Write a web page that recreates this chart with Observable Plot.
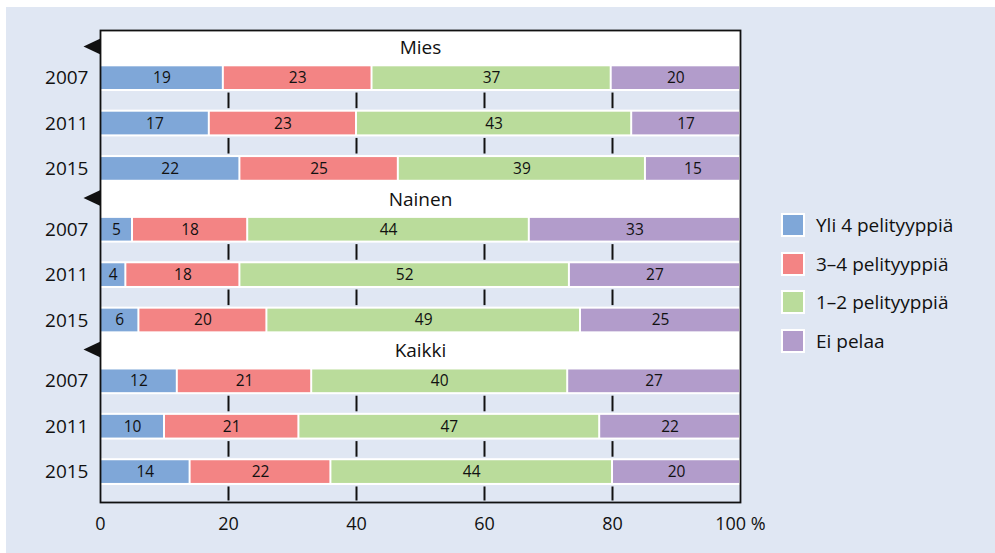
<!DOCTYPE html>
<html>
<head>
<meta charset="utf-8">
<script src="https://cdn.jsdelivr.net/npm/d3@7"></script>
<script src="https://cdn.jsdelivr.net/npm/@observablehq/plot@0.6"></script>
<style>
  html, body { margin: 0; padding: 0; background: #ffffff; }
  body { width: 995px; height: 553px; position: relative; overflow: hidden; font-family: "Open Sans", sans-serif; color: #111; }
  #bg { position: absolute; left: 6px; top: 7px; right: 0; bottom: 0; background: #e0e7f3; }
  #chart { position: absolute; left: 0; top: 0; }
  #legend { position: absolute; left: 781px; top: 213px; font-size: 19px; }
  .item { display: flex; align-items: center; height: 24px; margin-bottom: 14.5px; }
  .sw { width: 20px; height: 20px; border: 2px solid #ffffff; margin-right: 11px; flex: none; }
</style>
</head>
<body>
<div id="bg"></div>
<div id="chart"></div>
<div id="legend"></div>
<script>
// ---- data ----
const groups = ["Mies", "Nainen", "Kaikki"];
const years = ["2007", "2011", "2015"];
const categories = ["Yli 4 pelityyppiä", "3–4 pelityyppiä", "1–2 pelityyppiä", "Ei pelaa"];
const colors = ["#7fa7d8", "#f38484", "#badc9b", "#b29ccb"];
// rows in order: Mies 2007, 2011, 2015, Nainen 2007, 2011, 2015, Kaikki 2007, 2011, 2015
const yli4 = [19, 17, 22, 5, 4, 6, 12, 10, 14];
const kolmeNelja = [23, 23, 25, 18, 18, 20, 21, 21, 22];
const yksiKaksi = [37, 43, 39, 44, 52, 49, 40, 47, 44];
const eiPelaa = [20, 17, 15, 33, 27, 25, 27, 22, 20];
const xTicks = [0, 20, 40, 60, 80, 100];
const xTickLabels = ["0", "20", "40", "60", "80", "100 %"];

// ---- layout helpers (in y-scale units) ----
const yMax = 10.4;
const rowPos = (g, k) => 1.05 + g * 3.34 + k;
const half = 0.25;

const table = [];
const rows = [];
groups.forEach((grp, g) => years.forEach((yr, k) => {
  const i = g * 3 + k;
  const vals = [yli4[i], kolmeNelja[i], yksiKaksi[i], eiPelaa[i]];
  rows.push({group: grp, year: yr, pos: rowPos(g, k)});
  categories.forEach((c, j) => table.push({group: grp, year: yr, cat: c, value: vals[j], pos: rowPos(g, k)}));
}));

const bands = [];
groups.forEach((grp, g) => {
  for (let k = 0; k < years.length - 1; k++) bands.push({y1: rowPos(g, k) + 0.295, y2: rowPos(g, k) + 0.705});
});
bands.push({y1: rowPos(groups.length - 1, years.length - 1) + 0.295, y2: yMax});

const innerTicks = xTicks.filter(t => t > 0 && t < 100);
const tickRules = bands.flatMap(b => innerTicks.map(t => ({x: t / 100, y1: b.y1, y2: b.y2})));

const groupRows = groups.map((grp, g) => ({group: grp, title: rowPos(g, 0) - 0.66, tri: rowPos(g, 0) - 0.7}));

const leftTri = {
  draw(ctx) { ctx.moveTo(0, -8); ctx.lineTo(-17, 0); ctx.lineTo(0, 8); ctx.closePath(); }
};

const chart = Plot.plot({
  width: 995,
  height: 553,
  marginLeft: 100,
  marginRight: 255,
  marginTop: 30,
  marginBottom: 51,
  style: {background: "transparent", fontFamily: "Open Sans, sans-serif", fontSize: "18px", color: "#111"},
  x: {
    domain: [0, 1],
    ticks: xTicks.map(t => t / 100),
    tickFormat: d => xTickLabels[xTicks.indexOf(Math.round(d * 100))],
    tickSize: 0,
    tickPadding: 15,
    label: null
  },
  y: {domain: [0, yMax], range: [30, 502], axis: null},
  color: {domain: categories, range: colors},
  marks: [
    Plot.frame({fill: "white"}),
    Plot.rect(bands, {x1: 0, x2: 1, y1: "y1", y2: "y2", fill: "#e0e7f3"}),
    Plot.ruleX(tickRules, {x: "x", y1: "y1", y2: "y2", stroke: "#111", strokeWidth: 2, insetTop: 1.5, insetBottom: 1.5}),
    Plot.rect(table, Plot.stackX({
      x: "value", y1: d => d.pos - half, y2: d => d.pos + half,
      offset: "normalize", fill: "cat", insetLeft: 1, insetRight: 1
    })),
    Plot.text(table, Plot.stackX({
      x: "value", y: "pos", offset: "normalize", text: d => String(d.value),
      fontSize: 15.5, fill: "#111"
    })),
    Plot.text(rows, {x: 0, y: "pos", text: "year", textAnchor: "end", dx: -12, fontSize: 19, fill: "#111"}),
    Plot.text(groupRows, {x: 0.5, y: "title", text: "group", fontSize: 19, fill: "#111"}),
    Plot.dot(groupRows, {x: 0, y: "tri", symbol: leftTri, fill: "#111", stroke: null, r: 5}),
    Plot.frame({stroke: "#111", strokeWidth: 1.8})
  ]
});
document.getElementById("chart").appendChild(chart);

// ---- legend ----
const legend = document.getElementById("legend");
categories.forEach((c, i) => {
  const item = document.createElement("div");
  item.className = "item";
  const sw = document.createElement("div");
  sw.className = "sw";
  sw.style.background = colors[i];
  const label = document.createElement("span");
  label.textContent = c;
  item.appendChild(sw);
  item.appendChild(label);
  legend.appendChild(item);
});
</script>
</body>
</html>
